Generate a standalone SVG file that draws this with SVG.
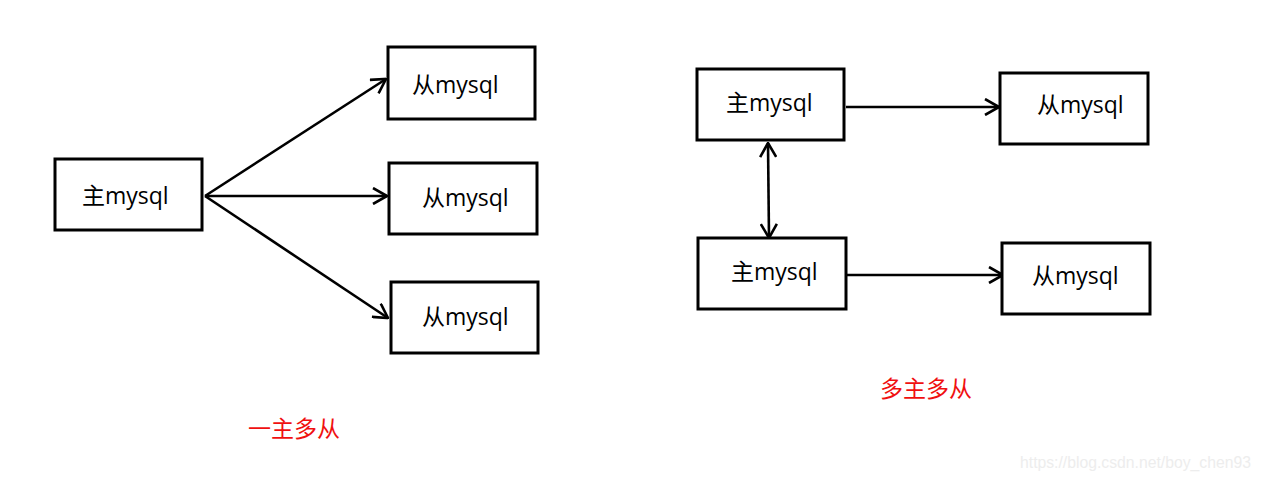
<svg xmlns="http://www.w3.org/2000/svg" width="1261" height="482" viewBox="0 0 1261 482">
<style>
.box{fill:#fff;stroke:#000;stroke-width:3}
.lbl{font-family:"Open Sans","Noto Sans CJK SC",sans-serif;font-size:23px;fill:#000}
.red{font-family:"Noto Sans CJK SC",sans-serif;font-size:23px;fill:#f01010}
.edge{fill:none;stroke:#000;stroke-width:2.6}
.wm{font-family:"Liberation Sans",Arial,sans-serif;font-size:16px;fill:#ededed}
</style>
<defs>
<marker id="arr" viewBox="0 0 16 18" refX="15" refY="9" markerWidth="16" markerHeight="18" markerUnits="userSpaceOnUse" orient="auto-start-reverse">
<path d="M1,1 L15,9 L1,17" fill="none" stroke="#000" stroke-width="2.6"/>
</marker>
</defs>
<rect width="1261" height="482" fill="#fff"/>
<g id="connectors">
<line class="edge" x1="205" y1="196" x2="386" y2="79" marker-end="url(#arr)"/>
<line class="edge" x1="205" y1="196" x2="387" y2="196" marker-end="url(#arr)"/>
<line class="edge" x1="205" y1="196" x2="388" y2="318" marker-end="url(#arr)"/>
<line class="edge" x1="846" y1="107" x2="999" y2="107" marker-end="url(#arr)"/>
<line class="edge" x1="847" y1="275" x2="1003" y2="275" marker-end="url(#arr)"/>
<line class="edge" x1="768" y1="143" x2="769" y2="238" marker-start="url(#arr)" marker-end="url(#arr)"/>
</g>
<g id="master1"><rect class="box" x="55" y="159" width="147" height="71"/><text class="lbl" x="82" y="204">主mysql</text></g>
<g id="slave1"><rect class="box" x="388" y="47" width="147" height="72"/><text class="lbl" x="412" y="93">从mysql</text></g>
<g id="slave2"><rect class="box" x="389" y="163" width="148" height="71"/><text class="lbl" x="422" y="206">从mysql</text></g>
<g id="slave3"><rect class="box" x="391" y="282" width="147" height="71"/><text class="lbl" x="422" y="325">从mysql</text></g>
<g id="masterA"><rect class="box" x="697" y="69" width="147" height="71"/><text class="lbl" x="726" y="111">主mysql</text></g>
<g id="masterB"><rect class="box" x="698" y="238" width="148" height="71"/><text class="lbl" x="731" y="280">主mysql</text></g>
<g id="slaveA"><rect class="box" x="1000" y="73" width="148" height="71"/><text class="lbl" x="1037" y="113">从mysql</text></g>
<g id="slaveB"><rect class="box" x="1002" y="243" width="148" height="71"/><text class="lbl" x="1032" y="284">从mysql</text></g>
<g id="captions">
<text class="red" x="248" y="437">一主多从</text>
<text class="red" x="880" y="397">多主多从</text>
</g>
<text class="wm" x="1020" y="468" textLength="231" lengthAdjust="spacingAndGlyphs">https://blog.csdn.net/boy_chen93</text>
</svg>
